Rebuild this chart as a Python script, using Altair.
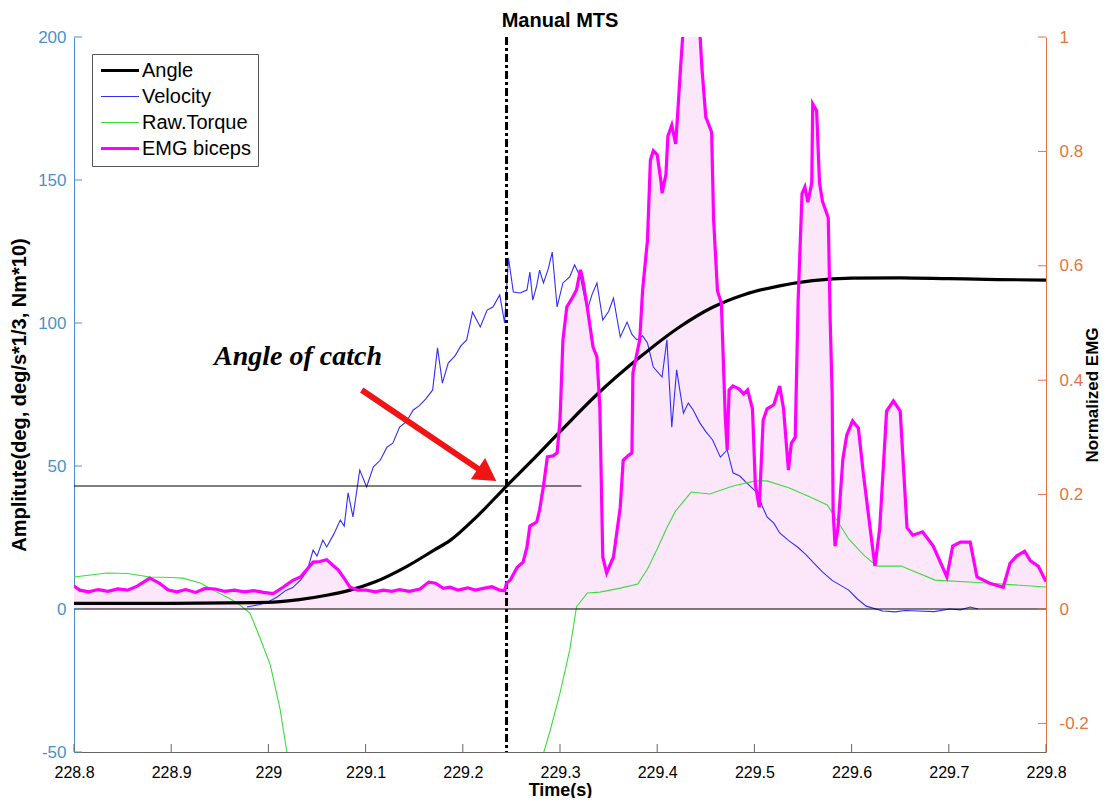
import altair as alt
import pandas as pd

# ---------------- series / legend ----------------
series_names = ["Angle", "Velocity", "Raw.Torque", "EMG biceps"]
series_colors = ["#000000", "#2f2ff5", "#3ddc3d", "#ff00ff"]
series_widths = [3.2, 1.1, 1.1, 3.2]

# ---------------- axis ticks ----------------
x_ticks = [228.8, 228.9, 229.0, 229.1, 229.2, 229.3, 229.4, 229.5, 229.6, 229.7, 229.8]
left_ticks = [-50, 0, 50, 100, 150, 200]
right_ticks = [-0.2, 0, 0.2, 0.4, 0.6, 0.8, 1]
emg_to_left = 200  # right axis (Normalized EMG) = left axis / 200

# ---------------- annotations ----------------
mts_time = 229.245
catch_angle = 43.0
catch_line_start = 228.8
catch_line_end = 229.322
arrow_start = (229.096, 76.6)
arrow_end = (229.225, 46.9)
note_pos = (229.0305, 85.3)
note_text = "Angle of catch"

# ---------------- Angle (deg) ----------------
angle_t = [228.8, 228.9, 229.0, 229.03, 229.06, 229.084, 229.11, 229.143, 229.17, 229.187,
           229.215, 229.245, 229.27, 229.3, 229.338, 229.382, 229.423, 229.457, 229.49, 229.526,
           229.56, 229.6, 229.65, 229.7, 229.75, 229.8]
angle_v = [2.0, 2.0, 2.3, 3.2, 4.8, 6.6, 9.5, 15.0, 20.5, 24.0,
           32.5, 43.0, 51.5, 62.0, 75.0, 88.0, 98.6, 105.5, 110.0, 113.0,
           114.8, 115.7, 115.8, 115.5, 115.2, 115.0]

# ---------------- Velocity (deg/s * 1/3) ----------------
vel_t = [228.978, 228.990, 229.000, 229.009, 229.018, 229.025, 229.033, 229.040, 229.046, 229.050,
         229.056, 229.060, 229.067, 229.074, 229.078, 229.082, 229.087, 229.094, 229.101, 229.108,
         229.115, 229.122, 229.128, 229.135, 229.142, 229.149, 229.155, 229.162, 229.169, 229.174,
         229.179, 229.185, 229.192, 229.198, 229.204, 229.210, 229.218, 229.225, 229.231, 229.238,
         229.243, 229.247, 229.252, 229.259, 229.266, 229.269, 229.272, 229.276, 229.279, 229.283,
         229.288, 229.292, 229.297, 229.303, 229.310, 229.315, 229.321, 229.328, 229.333, 229.338,
         229.344, 229.350, 229.355, 229.362, 229.369, 229.374, 229.379, 229.385, 229.390, 229.396,
         229.405, 229.410, 229.415, 229.420, 229.427, 229.432, 229.437, 229.444, 229.450, 229.457,
         229.465, 229.472, 229.478, 229.485, 229.492, 229.497, 229.503, 229.508, 229.513, 229.520,
         229.526, 229.535, 229.545, 229.553, 229.561, 229.570, 229.580, 229.590, 229.597, 229.606,
         229.615, 229.632, 229.645, 229.655, 229.668, 229.685, 229.701, 229.712, 229.722, 229.730]
vel_v = [0.7, 1.5, 2.5, 4.2, 6.5, 7.5, 10.1, 13.5, 20.6, 18.5,
         24.1, 21.7, 26.0, 31.1, 29.0, 40.6, 32.2, 48.6, 42.7, 49.7,
         52.0, 56.6, 58.0, 63.6, 65.5, 69.6, 71.0, 73.5, 76.6, 91.3,
         79.0, 86.0, 88.5, 92.0, 94.1, 103.8, 98.6, 104.5, 105.6, 109.8,
         100.0, 122.7, 110.8, 110.5, 111.5, 117.8, 108.0, 113.0, 118.5, 114.0,
         119.0, 124.8, 105.6, 114.0, 116.1, 120.3, 116.1, 104.5, 110.0, 114.0,
         101.0, 104.0, 108.7, 95.1, 100.3, 96.0, 94.1, 95.5, 93.0, 84.6,
         81.1, 94.1, 63.6, 83.6, 68.5, 72.0, 69.6, 65.0, 62.0, 59.1,
         53.1, 55.6, 47.6, 46.5, 44.1, 42.5, 40.6, 36.0, 32.2, 30.0,
         26.6, 24.0, 21.5, 19.0, 16.1, 13.0, 10.0, 8.0, 6.6, 3.5,
         1.0, -0.7, -1.0, -0.5, -0.7, -0.9, 0.0, -0.3, 0.7, 0.0]

# ---------------- Raw torque (Nm * 10) ----------------
torque_t = [228.800, 228.815, 228.834, 228.855, 228.878, 228.900, 228.912, 228.930, 228.947, 228.958,
            228.968, 228.981, 228.991, 229.002, 229.012, 229.019, 229.030, 229.270, 229.281, 229.290,
            229.300, 229.310, 229.317, 229.328, 229.341, 229.362, 229.380, 229.390, 229.400, 229.410,
            229.419, 229.435, 229.454, 229.478, 229.501, 229.513, 229.536, 229.555, 229.575, 229.597,
            229.612, 229.626, 229.651, 229.686, 229.739, 229.800]
torque_v = [11.2, 11.8, 12.6, 12.4, 11.2, 11.0, 10.8, 9.1, 5.9, 4.0,
            2.1, -1.4, -9.8, -19.6, -35.0, -50.0, -80.0, -80.0, -52.8, -42.3,
            -29.4, -14.3, 0.7, 5.6, 5.9, 7.3, 8.7, 14.0, 21.0, 28.5,
            34.3, 40.9, 40.2, 43.0, 44.8, 44.8, 42.3, 39.5, 36.4, 24.5,
            19.0, 15.0, 15.0, 10.1, 9.1, 7.7]

# ---------------- EMG biceps (normalized) ----------------
emg_t = [228.800, 228.806, 228.815, 228.825, 228.835, 228.845, 228.855, 228.865, 228.878, 228.888,
         228.897, 228.906, 228.915, 228.925, 228.935, 228.945, 228.955, 228.965, 228.975, 228.985,
         228.995, 229.005, 229.015, 229.025, 229.033, 229.040, 229.046, 229.053, 229.060, 229.066,
         229.072, 229.077, 229.084, 229.092, 229.101, 229.110, 229.118, 229.127, 229.135, 229.145,
         229.156, 229.165, 229.172, 229.180, 229.187, 229.195, 229.205, 229.213, 229.221, 229.230,
         229.238, 229.243, 229.245, 229.249, 229.256, 229.262, 229.266, 229.269, 229.276, 229.279,
         229.283, 229.287, 229.293, 229.297, 229.300, 229.303, 229.307, 229.313, 229.317, 229.321,
         229.323, 229.328, 229.334, 229.338, 229.341, 229.344, 229.348, 229.355, 229.362, 229.365,
         229.370, 229.374, 229.375, 229.382, 229.385, 229.390, 229.393, 229.396, 229.400, 229.404,
         229.405, 229.409, 229.411, 229.415, 229.419, 229.421, 229.424, 229.427, 229.434, 229.441,
         229.444, 229.446, 229.450, 229.456, 229.458, 229.462, 229.466, 229.470, 229.472, 229.474,
         229.478, 229.484, 229.489, 229.493, 229.498, 229.501, 229.505, 229.509, 229.513, 229.520,
         229.526, 229.530, 229.535, 229.538, 229.542, 229.545, 229.549, 229.552, 229.555, 229.559,
         229.560, 229.564, 229.567, 229.570, 229.576, 229.578, 229.580, 229.581, 229.583, 229.586,
         229.591, 229.595, 229.601, 229.607, 229.612, 229.619, 229.624, 229.629, 229.636, 229.643,
         229.650, 229.657, 229.663, 229.673, 229.684, 229.698, 229.704, 229.712, 229.722, 229.729,
         229.742, 229.756, 229.763, 229.770, 229.778, 229.784, 229.792, 229.800]
emg_v = [0.040, 0.033, 0.030, 0.034, 0.031, 0.035, 0.033, 0.040, 0.054, 0.045,
         0.033, 0.030, 0.034, 0.029, 0.036, 0.035, 0.031, 0.033, 0.030, 0.032,
         0.029, 0.027, 0.038, 0.050, 0.056, 0.070, 0.082, 0.083, 0.086, 0.077,
         0.068, 0.056, 0.038, 0.033, 0.033, 0.030, 0.033, 0.031, 0.034, 0.031,
         0.035, 0.047, 0.045, 0.036, 0.038, 0.033, 0.037, 0.033, 0.036, 0.039,
         0.033, 0.032, 0.045, 0.051, 0.073, 0.082, 0.108, 0.145, 0.152, 0.173,
         0.215, 0.266, 0.268, 0.273, 0.330, 0.470, 0.528, 0.545, 0.558, 0.593,
         0.580, 0.528, 0.458, 0.441, 0.353, 0.091, 0.063, 0.091, 0.178, 0.260,
         0.268, 0.273, 0.413, 0.470, 0.558, 0.645, 0.785, 0.801, 0.794, 0.746,
         0.727, 0.760, 0.827, 0.846, 0.813, 0.864, 0.946, 1.020, 1.060, 1.020,
         1.005, 0.946, 0.860, 0.834, 0.682, 0.556, 0.535, 0.337, 0.278, 0.383,
         0.390, 0.385, 0.376, 0.383, 0.350, 0.217, 0.178, 0.330, 0.350, 0.357,
         0.390, 0.350, 0.243, 0.290, 0.300, 0.540, 0.726, 0.738, 0.711, 0.745,
         0.883, 0.871, 0.745, 0.713, 0.684, 0.503, 0.376, 0.171, 0.110, 0.142,
         0.262, 0.304, 0.329, 0.316, 0.238, 0.142, 0.075, 0.142, 0.346, 0.364,
         0.346, 0.142, 0.129, 0.135, 0.110, 0.056, 0.110, 0.117, 0.117, 0.056,
         0.045, 0.038, 0.080, 0.093, 0.101, 0.084, 0.075, 0.048]

# ---------------- styling ----------------
W, H = 972, 715
BLUE = "#4a92c9"
ORANGE = "#e3743f"
RED = "#f01414"
FONT = "Liberation Sans"
label_fmt = "toString(datum.value)"

angle_df = pd.DataFrame({"t": angle_t, "v": angle_v, "series": "Angle"})
other_df = pd.concat([
    pd.DataFrame({"t": vel_t, "v": vel_v, "series": "Velocity"}),
    pd.DataFrame({"t": torque_t, "v": torque_v, "series": "Raw.Torque"}),
], ignore_index=True)
emg_df = pd.DataFrame({"t": emg_t, "e": emg_v, "series": "EMG biceps"})

xs = alt.Scale(domain=[228.8, 229.8], nice=False, zero=False)
ys = alt.Scale(domain=[-50, 200], nice=False, zero=False)
es = alt.Scale(domain=[-0.25, 1], nice=False, zero=False)

legend = alt.Legend(
    title=None, orient="none", legendX=18, legendY=17,
    symbolType="stroke", symbolSize=1444, symbolOffset=0, clipHeight=19,
    labelFontSize=20, labelFont=FONT, labelColor="black", labelOffset=1, labelLimit=400,
    padding=7, rowPadding=5, strokeColor="#555555", fillColor="white",
)
color_enc = alt.Color("series:N", scale=alt.Scale(domain=series_names, range=series_colors), legend=legend)
width_enc = alt.StrokeWidth("series:N", scale=alt.Scale(type="ordinal", domain=series_names, range=series_widths),
                            legend=legend)

x_axis = alt.Axis(title="Time(s)", values=x_ticks, labelExpr=label_fmt, tickSize=0, grid=False,
                  domainColor="#666666", labelColor="black", labelFontSize=16, labelFont=FONT,
                  titleFontSize=18, titleFontWeight="bold", titleFont=FONT, titleColor="black",
                  labelPadding=12, titlePadding=1, labelFlush=False, labelOverlap=False)
left_axis = alt.Axis(title="Amplitute(deg, deg/s*1/3, Nm*10)", values=left_ticks, labelExpr=label_fmt,
                     tickSize=0, grid=False, domainColor=BLUE, labelColor=BLUE, labelFontSize=17,
                     labelFont=FONT, titleFontSize=20, titleFontWeight="bold", titleFont=FONT,
                     titleColor="black", labelPadding=8, titlePadding=8, labelOverlap=False)
right_axis = alt.Axis(title="Normalized EMG", orient="right", values=right_ticks, labelExpr=label_fmt,
                      tickSize=0, grid=False, domainColor=ORANGE, labelColor=ORANGE, labelFontSize=17,
                      labelFont=FONT, titleFontSize=17, titleFontWeight="bold", titleFont=FONT,
                      titleColor="black", labelPadding=13, titlePadding=-4, titleAngle=270,
                      titleBaseline="top", labelOverlap=False)

def X(f="t"):
    return alt.X(f"{f}:Q", scale=xs)

def Y(f="v"):
    return alt.Y(f"{f}:Q", scale=ys)

# EMG shaded area on the left scale (left = EMG * 200), drawn behind everything
emg_area = alt.Chart(emg_df).transform_calculate(v=f"datum.e * {emg_to_left}").mark_area(
    color="#fce6fa", opacity=1, clip=True).encode(x=X(), y=Y())

other_lines = alt.Chart(other_df).mark_line(clip=True).encode(
    x=alt.X("t:Q", scale=xs, axis=x_axis),
    y=alt.Y("v:Q", scale=ys, axis=left_axis),
    color=color_enc, strokeWidth=width_enc, detail="series:N")
angle_line = alt.Chart(angle_df).mark_line(clip=True, interpolate="monotone").encode(
    x=X(), y=Y(), color=color_enc, strokeWidth=width_enc)

zero_rule = alt.Chart(pd.DataFrame({"v": [0]})).mark_rule(color="#000000", strokeWidth=1.2).encode(y=Y())
catch_rule = alt.Chart(pd.DataFrame({"t": [catch_line_start], "t2": [catch_line_end], "v": [catch_angle]})
                       ).mark_rule(color="#000000", strokeWidth=1.2).encode(x=X(), x2="t2:Q", y=Y())
mts_rule = alt.Chart(pd.DataFrame({"t": [mts_time]})).mark_rule(
    color="black", strokeWidth=3, strokeDash=[8, 3, 3, 3]).encode(x=X())

arrow_df = pd.DataFrame({"t": [arrow_start[0]], "v": [arrow_start[1]],
                         "t2": [arrow_end[0]], "v2": [arrow_end[1]]})
arrow_shaft = alt.Chart(arrow_df).mark_rule(color=RED, strokeWidth=6).encode(
    x=X(), y=Y(), x2="t2:Q", y2="v2:Q")
arrow_head = alt.Chart(pd.DataFrame({"t": [arrow_end[0]], "v": [arrow_end[1]]})).mark_point(
    shape="triangle-right", filled=True, size=650, angle=34, color=RED, opacity=1).encode(x=X(), y=Y())
note = alt.Chart(pd.DataFrame({"t": [note_pos[0]], "v": [note_pos[1]], "label": [note_text]})).mark_text(
    font="Liberation Serif", fontStyle="italic", fontWeight="bold", fontSize=28,
    align="center", baseline="alphabetic", color="black").encode(x=X(), y=Y(), text="label:N")

x_tick_marks = alt.Chart(pd.DataFrame({"t": x_ticks})).mark_tick(
    orient="vertical", size=8, thickness=1, color="#666666", opacity=1).encode(
    x=X(), y=alt.value(H - 4))
left_tick_marks = alt.Chart(pd.DataFrame({"v": left_ticks})).mark_tick(
    orient="horizontal", size=8, thickness=1, color=BLUE, opacity=1).encode(
    y=Y(), x=alt.value(4))

left_group = alt.layer(emg_area, other_lines, zero_rule, catch_rule, angle_line, mts_rule,
                       arrow_shaft, arrow_head, note, x_tick_marks, left_tick_marks)

emg_line = alt.Chart(emg_df).mark_line(clip=True).encode(
    x=X(), y=alt.Y("e:Q", scale=es, axis=right_axis), color=color_enc, strokeWidth=width_enc)
right_tick_marks = alt.Chart(pd.DataFrame({"e": right_ticks})).mark_tick(
    orient="horizontal", size=8, thickness=1, color=ORANGE, opacity=1).encode(
    y=alt.Y("e:Q", scale=es), x=alt.value(W - 4))
right_group = alt.layer(emg_line, right_tick_marks)

chart = alt.layer(left_group, right_group).resolve_scale(y="independent").properties(
    width=W, height=H,
    title=alt.TitleParams("Manual MTS", fontSize=20, fontWeight="bold", font=FONT, color="black",
                          offset=-3, anchor="middle"),
    padding={"left": 66, "top": 29, "right": 56, "bottom": 46},
    autosize=alt.AutoSizeParams(type="none"),
).configure(font=FONT).configure_view(stroke=None)

chart.save("out.html", embed_options={"renderer": "svg", "actions": False})
